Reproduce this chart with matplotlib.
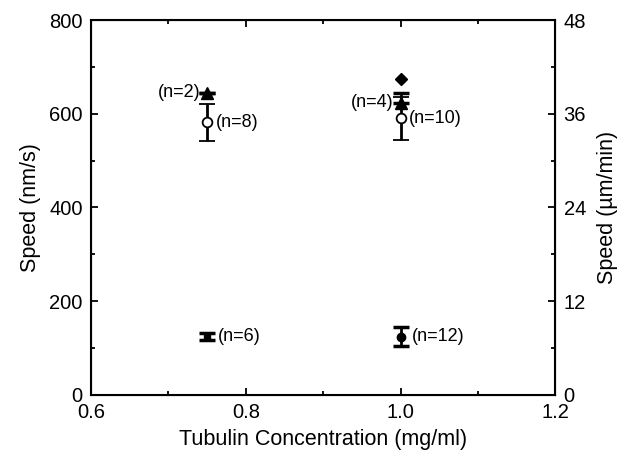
import matplotlib
matplotlib.use("Agg")
import matplotlib.pyplot as plt
from matplotlib.ticker import MultipleLocator

plt.rcParams["font.family"] = ["Liberation Sans", "DejaVu Sans"]

# open circles
circ_x = [0.75, 1.0]
circ_y = [582, 590]
circ_err = [40, 45]
circ_n = ["(n=8)", "(n=10)"]

# filled triangles
tri_x = [0.75, 1.0]
tri_y = [645, 624]
tri_err_up = [0, 20]
tri_n = ["(n=2)", "(n=4)"]

# filled diamond
dia_x = [1.0]
dia_y = [675]

# low speed points
low_x = [0.75, 1.0]
low_y = [124, 124]
low_err = [8, 20]
low_n = ["(n=6)", "(n=12)"]

fig = plt.figure(figsize=(6.24, 4.58), dpi=100)
ax = fig.add_axes([0.146, 0.138, 0.744, 0.818])

ax.errorbar(circ_x, circ_y, yerr=circ_err, fmt="o", mfc="white", mec="black",
            ms=7, mew=1.3, ecolor="black", elinewidth=2, capsize=6, capthick=2.5, zorder=3)
ax.errorbar(tri_x, tri_y, yerr=[[0, 0], tri_err_up], fmt="^", color="black",
            ms=8, elinewidth=2, capsize=6, capthick=2.5, zorder=4)
ax.plot(dia_x, dia_y, "D", color="black", ms=6)
ax.errorbar(low_x[:1], low_y[:1], yerr=low_err[:1], fmt="s", color="black",
            ms=5, elinewidth=2, capsize=6, capthick=2.5)
ax.errorbar(low_x[1:], low_y[1:], yerr=low_err[1:], fmt="o", color="black",
            ms=6, elinewidth=2, capsize=6, capthick=2.5)

fs = 13
for x, y, t in zip(circ_x, circ_y, circ_n):
    ax.annotate(t, (x, y), xytext=(6, 0), textcoords="offset points", va="center", fontsize=fs)
for x, y, t in zip(tri_x, tri_y, tri_n):
    ax.annotate(t, (x, y), xytext=(-5, 0), textcoords="offset points", va="center", ha="right", fontsize=fs)
for x, y, t in zip(low_x, low_y, low_n):
    ax.annotate(t, (x, y), xytext=(8, 0), textcoords="offset points", va="center", fontsize=fs)

ax.set_xlim(0.6, 1.2)
ax.set_ylim(0, 800)
ax.xaxis.set_major_locator(MultipleLocator(0.2))
ax.xaxis.set_minor_locator(MultipleLocator(0.1))
ax.yaxis.set_major_locator(MultipleLocator(200))
ax.yaxis.set_minor_locator(MultipleLocator(100))
ax.tick_params(axis="both", which="both", direction="in", top=True, labelsize=14.5, width=1.3)
ax.tick_params(axis="both", which="major", length=5)
ax.tick_params(axis="both", which="minor", length=3)
ax.tick_params(axis="x", which="major", pad=6)
ax.tick_params(axis="y", which="major", pad=6)
ax.set_xlabel("Tubulin Concentration (mg/ml)", fontsize=15.5, labelpad=5)
ax.set_ylabel("Speed (nm/s)", fontsize=15.5, labelpad=6)
for s in ax.spines.values():
    s.set_linewidth(1.5)

ax2 = ax.twinx()
ax2.set_ylim(0, 48)
ax2.yaxis.set_major_locator(MultipleLocator(12))
ax2.yaxis.set_minor_locator(MultipleLocator(6))
ax2.tick_params(axis="y", which="both", direction="in", labelsize=14.5, width=1.3, pad=6)
ax2.tick_params(axis="y", which="major", length=5)
ax2.tick_params(axis="y", which="minor", length=3)
ax2.set_ylabel("Speed (\u00b5m/min)", fontsize=15.5, labelpad=8)

fig.savefig("out.png", dpi=100)
